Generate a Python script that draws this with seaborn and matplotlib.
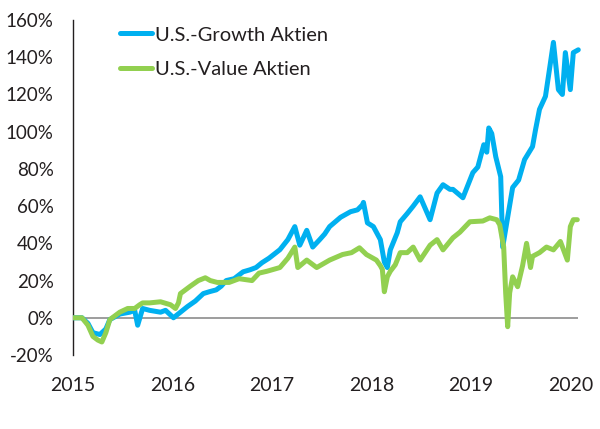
import numpy as np
import pandas as pd
import matplotlib.pyplot as plt
import seaborn as sns

# cumulative performance in % (time in fractional years)
growth_t = [2015.00, 2015.09, 2015.15, 2015.20, 2015.27, 2015.33, 2015.37, 2015.47, 2015.57,
            2015.62, 2015.65, 2015.70, 2015.77, 2015.88, 2015.93, 2016.01, 2016.08, 2016.15,
            2016.23, 2016.31, 2016.37, 2016.44, 2016.49, 2016.54, 2016.62, 2016.71, 2016.78,
            2016.84, 2016.90, 2016.97, 2017.08, 2017.16, 2017.23, 2017.28, 2017.35, 2017.41,
            2017.48, 2017.53, 2017.58, 2017.69, 2017.79, 2017.86, 2017.91, 2017.92, 2017.96,
            2018.02, 2018.09, 2018.13, 2018.16, 2018.19, 2018.26, 2018.29, 2018.36, 2018.42,
            2018.49, 2018.59, 2018.66, 2018.72, 2018.79, 2018.82, 2018.92, 2019.02, 2019.07,
            2019.13, 2019.16, 2019.18, 2019.21, 2019.25, 2019.30, 2019.32, 2019.37, 2019.42,
            2019.48, 2019.54, 2019.62, 2019.65, 2019.69, 2019.75, 2019.80, 2019.83, 2019.88]
growth_v = [0, 0, -3, -8, -9, -6, -1, 2, 3,
            4, -4, 5, 4, 3, 4, 0, 3, 6,
            9, 13, 14, 15, 17, 20, 21, 24.7, 25.8,
            27, 29.6, 32, 36.6, 42, 49, 39, 47, 38,
            42, 45, 49, 54, 57, 58, 60.7, 62, 51,
            49, 42, 30, 27, 36.5, 45.7, 51.6, 56, 60,
            65, 52.7, 67, 71.5, 69, 69, 64.5, 78, 81,
            93, 89, 102, 99, 86.6, 75.8, 38, 54, 70,
            74, 85, 92, 101, 112, 119, 137, 148, 122.6]
growth_t += [2019.92, 2019.95, 2020.00, 2020.03, 2020.08]
growth_v += [120, 142.5, 122.6, 142.5, 144]

value_t = [2015.00, 2015.09, 2015.15, 2015.20, 2015.25, 2015.29, 2015.33, 2015.37, 2015.42,
           2015.47, 2015.55, 2015.62, 2015.67, 2015.70, 2015.77, 2015.88, 2015.98, 2016.03,
           2016.06, 2016.08, 2016.18, 2016.26, 2016.33, 2016.38, 2016.45, 2016.52, 2016.57,
           2016.67, 2016.80, 2016.87, 2016.95, 2017.08, 2017.16, 2017.23, 2017.26, 2017.35,
           2017.45, 2017.58, 2017.71, 2017.80, 2017.88, 2017.95, 2018.05, 2018.09, 2018.11,
           2018.13, 2018.16, 2018.19, 2018.24, 2018.29, 2018.36, 2018.42, 2018.49, 2018.59,
           2018.66, 2018.72, 2018.82, 2018.89, 2018.99, 2019.12, 2019.19, 2019.26, 2019.29,
           2019.33, 2019.35, 2019.37, 2019.39, 2019.42, 2019.47, 2019.52, 2019.56, 2019.60,
           2019.62, 2019.69, 2019.76, 2019.83, 2019.90, 2019.97, 2020.00, 2020.03, 2020.07]
value_v = [0, 0, -4, -10, -12, -13, -8, -1, 1,
           3, 5, 5, 7, 8, 8, 8.6, 7, 5,
           8, 13, 17, 20, 21.5, 20, 19, 19, 19,
           21, 20, 24, 25, 27, 32, 38, 27, 31,
           27, 31, 34, 35, 37.6, 34, 31, 28, 26,
           14, 22, 25, 28.5, 35, 35, 38, 31, 39,
           42, 36.5, 43, 46, 51.6, 52, 53.7, 52.7, 50,
           38, 13.4, -4.8, 13.4, 22, 16.7, 28, 40, 27,
           33, 35, 38, 36.5, 41, 31, 49, 52.7, 52.7]

series_names = ["U.S.-Growth Aktien", "U.S.-Value Aktien"]
series_colors = ["#00B0F0", "#92D050"]
year_ticks = [2015, 2016, 2017, 2018, 2019, 2020]
pct_ticks = [-20, 0, 20, 40, 60, 80, 100, 120, 140, 160]

df = pd.concat([
    pd.DataFrame({"t": growth_t, "v": growth_v, "serie": series_names[0]}),
    pd.DataFrame({"t": value_t, "v": value_v, "serie": series_names[1]}),
])

sns.set_style("white")
plt.rcParams["font.family"] = ["Lato", "DejaVu Sans"]
text_color = "#231f20"

fig = plt.figure(figsize=(6, 4.29), dpi=100)
ax = fig.add_axes([0.1217, 0.1725, 0.862, 0.7808])

ax.hlines(0, min(growth_t), max(growth_t), color="#8c8c8c", lw=1.2, zorder=1)
sns.lineplot(data=df, x="t", y="v", hue="serie", palette=series_colors,
             linewidth=3.6, ax=ax, zorder=3)

ax.set_xlim(2015, 2020.2)
ax.set_ylim(-20, 160)
ax.set_xticks(year_ticks)
ax.set_xticklabels([str(y) for y in year_ticks], fontsize=14, color=text_color)
ax.set_yticks(pct_ticks)
ax.set_yticklabels([f"{p}%" for p in pct_ticks], fontsize=13.5, color=text_color)
ax.tick_params(axis="x", length=0, pad=16)
ax.tick_params(axis="y", length=0, pad=14)
ax.set_xlabel("")
ax.set_ylabel("")

for side in ["top", "right", "bottom"]:
    ax.spines[side].set_visible(False)
ax.spines["left"].set_color(text_color)
ax.spines["left"].set_linewidth(1.0)

leg = ax.legend(loc="upper left", bbox_to_anchor=(0.056, 1.035), frameon=False,
                fontsize=14.5, handlelength=1.6, handletextpad=0.12, labelspacing=0.85)
for txt in leg.get_texts():
    txt.set_color(text_color)

fig.savefig("out.png", dpi=100)
